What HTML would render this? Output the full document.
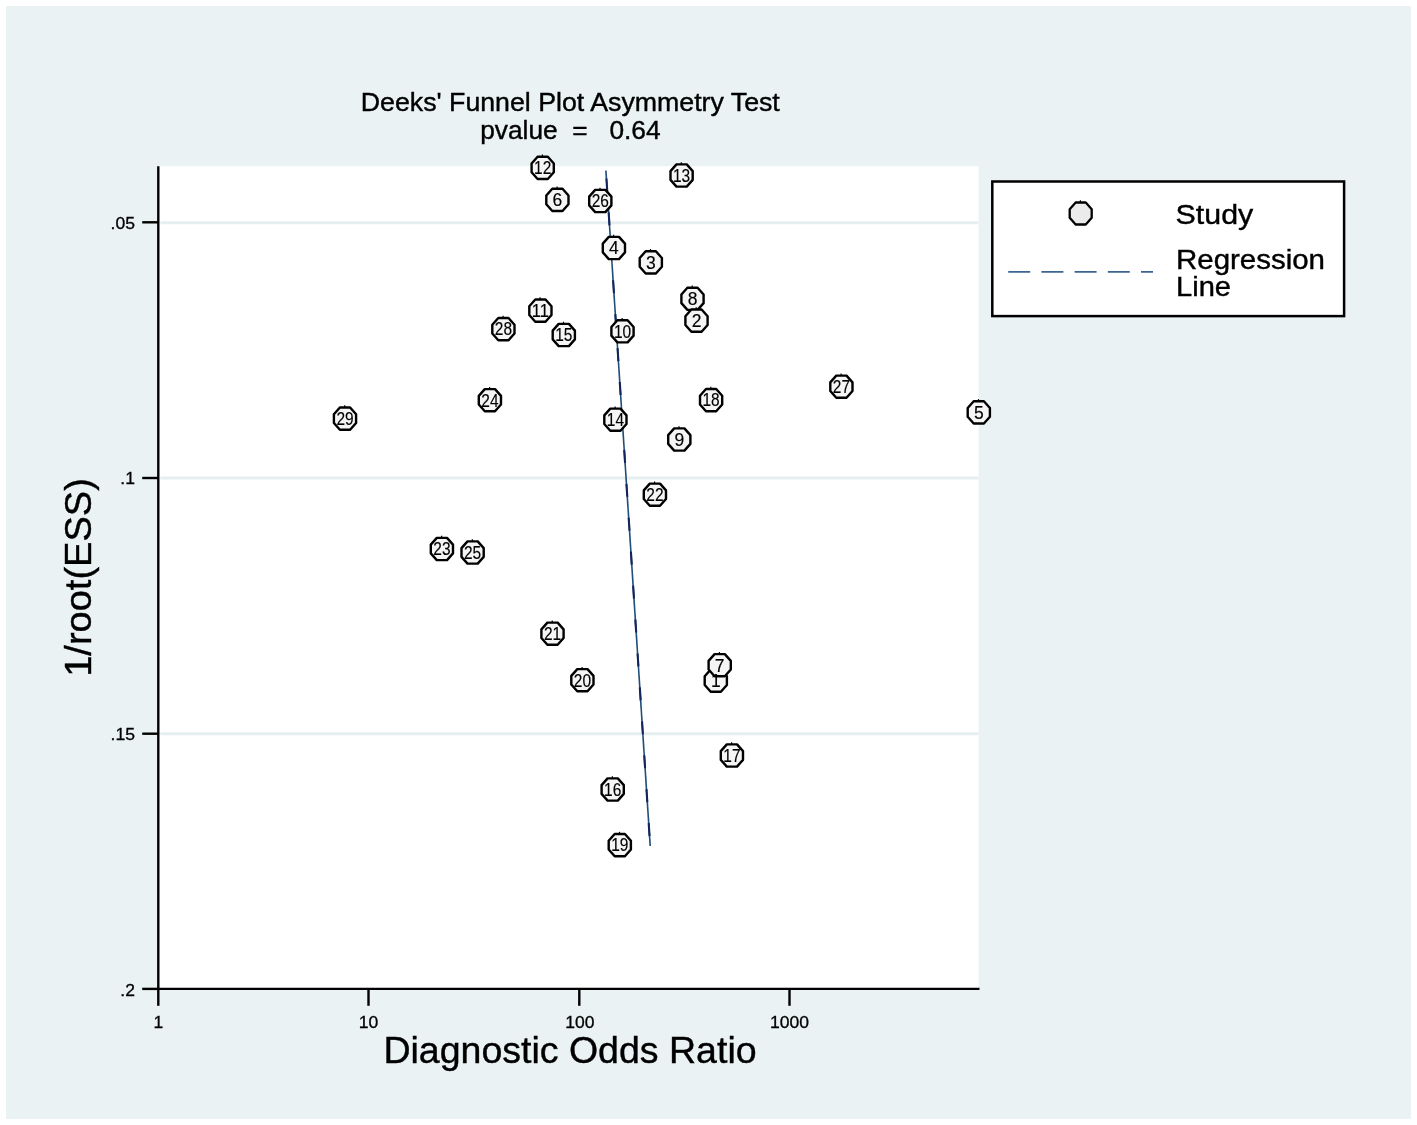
<!DOCTYPE html>
<html><head><meta charset="utf-8"><title>Deeks' Funnel Plot Asymmetry Test</title>
<style>
html,body{margin:0;padding:0;background:#fff;}
body{width:1417px;height:1125px;overflow:hidden;}
svg{display:block;}
text{font-family:"Liberation Sans",Arial,Helvetica,sans-serif;fill:#000;}
.ml{font-size:17.5px;text-anchor:middle;stroke:#000;stroke-width:0.15px;}
.tk{font-size:16.5px;stroke:#000;stroke-width:0.3px;}
.big{stroke:#000;stroke-width:0.4px;}
</style></head><body>
<svg width="1417" height="1125" viewBox="0 0 1417 1125">
<rect x="0" y="0" width="1417" height="1125" fill="#ffffff"/>
<rect x="6" y="6" width="1405" height="1113" fill="#EAF2F3"/>
<rect x="158.3" y="166.2" width="820.2" height="822.7" fill="#ffffff"/>

<line x1="160.3" y1="222.7" x2="978.5" y2="222.7" stroke="#E5EFF0" stroke-width="3.0"/>
<line x1="160.3" y1="478.1" x2="978.5" y2="478.1" stroke="#E5EFF0" stroke-width="3.0"/>
<line x1="160.3" y1="733.8" x2="978.5" y2="733.8" stroke="#E5EFF0" stroke-width="3.0"/>
<line x1="605.9" y1="170.5" x2="650.2" y2="846" stroke="#1E4E7A" stroke-width="1.6"/>
<line x1="605.9" y1="170.5" x2="650.2" y2="846" stroke="#13255A" stroke-width="2.1" stroke-dasharray="13 21" stroke-dashoffset="-8"/>
<g fill="#F5F5F5" stroke="#000" stroke-width="2.4" stroke-linejoin="round">
<polygon points="537.59,156.80 547.81,156.80 553.80,163.57 553.80,172.23 547.81,179.00 537.59,179.00 531.60,172.23 531.60,163.57"/><line x1="542.4" y1="154.6" x2="542.4" y2="156.8" stroke-width="1.2"/>
<polygon points="676.49,164.40 686.71,164.40 692.70,171.17 692.70,179.83 686.71,186.60 676.49,186.60 670.50,179.83 670.50,171.17"/><line x1="681.3" y1="162.2" x2="681.3" y2="164.4" stroke-width="1.2"/>
<polygon points="552.29,188.80 562.51,188.80 568.50,195.57 568.50,204.23 562.51,211.00 552.29,211.00 546.30,204.23 546.30,195.57"/><line x1="557.1" y1="186.6" x2="557.1" y2="188.8" stroke-width="1.2"/>
<polygon points="595.19,189.90 605.41,189.90 611.40,196.67 611.40,205.33 605.41,212.10 595.19,212.10 589.20,205.33 589.20,196.67"/><line x1="600.0" y1="187.7" x2="600.0" y2="189.9" stroke-width="1.2"/>
<polygon points="608.79,236.90 619.01,236.90 625.00,243.67 625.00,252.33 619.01,259.10 608.79,259.10 602.80,252.33 602.80,243.67"/><line x1="613.6" y1="234.7" x2="613.6" y2="236.9" stroke-width="1.2"/>
<polygon points="645.69,251.30 655.91,251.30 661.90,258.07 661.90,266.73 655.91,273.50 645.69,273.50 639.70,266.73 639.70,258.07"/><line x1="650.5" y1="249.1" x2="650.5" y2="251.3" stroke-width="1.2"/>
<polygon points="535.29,299.50 545.51,299.50 551.50,306.27 551.50,314.93 545.51,321.70 535.29,321.70 529.30,314.93 529.30,306.27"/><line x1="540.1" y1="297.3" x2="540.1" y2="299.5" stroke-width="1.2"/>
<polygon points="498.29,318.00 508.51,318.00 514.50,324.77 514.50,333.43 508.51,340.20 498.29,340.20 492.30,333.43 492.30,324.77"/><line x1="503.1" y1="315.8" x2="503.1" y2="318.0" stroke-width="1.2"/>
<polygon points="558.69,323.90 568.91,323.90 574.90,330.67 574.90,339.33 568.91,346.10 558.69,346.10 552.70,339.33 552.70,330.67"/><line x1="563.5" y1="321.7" x2="563.5" y2="323.9" stroke-width="1.2"/>
<polygon points="617.39,320.20 627.61,320.20 633.60,326.97 633.60,335.63 627.61,342.40 617.39,342.40 611.40,335.63 611.40,326.97"/><line x1="622.2" y1="318.0" x2="622.2" y2="320.2" stroke-width="1.2"/>
<polygon points="687.39,287.70 697.61,287.70 703.60,294.47 703.60,303.13 697.61,309.90 687.39,309.90 681.40,303.13 681.40,294.47"/><line x1="692.2" y1="285.5" x2="692.2" y2="287.7" stroke-width="1.2"/>
<polygon points="691.39,309.50 701.61,309.50 707.60,316.27 707.60,324.93 701.61,331.70 691.39,331.70 685.40,324.93 685.40,316.27"/><line x1="696.2" y1="307.3" x2="696.2" y2="309.5" stroke-width="1.2"/>
<polygon points="484.79,389.10 495.01,389.10 501.00,395.87 501.00,404.53 495.01,411.30 484.79,411.30 478.80,404.53 478.80,395.87"/><line x1="489.6" y1="386.9" x2="489.6" y2="389.1" stroke-width="1.2"/>
<polygon points="705.99,389.00 716.21,389.00 722.20,395.77 722.20,404.43 716.21,411.20 705.99,411.20 700.00,404.43 700.00,395.77"/><line x1="710.8" y1="386.8" x2="710.8" y2="389.0" stroke-width="1.2"/>
<polygon points="610.29,408.60 620.51,408.60 626.50,415.37 626.50,424.03 620.51,430.80 610.29,430.80 604.30,424.03 604.30,415.37"/><line x1="615.1" y1="406.4" x2="615.1" y2="408.6" stroke-width="1.2"/>
<polygon points="674.19,428.40 684.41,428.40 690.40,435.17 690.40,443.83 684.41,450.60 674.19,450.60 668.20,443.83 668.20,435.17"/><line x1="679.0" y1="426.2" x2="679.0" y2="428.4" stroke-width="1.2"/>
<polygon points="339.89,407.50 350.11,407.50 356.10,414.27 356.10,422.93 350.11,429.70 339.89,429.70 333.90,422.93 333.90,414.27"/><line x1="344.7" y1="405.3" x2="344.7" y2="407.5" stroke-width="1.2"/>
<polygon points="436.79,537.90 447.01,537.90 453.00,544.67 453.00,553.33 447.01,560.10 436.79,560.10 430.80,553.33 430.80,544.67"/><line x1="441.6" y1="535.7" x2="441.6" y2="537.9" stroke-width="1.2"/>
<polygon points="467.49,541.40 477.71,541.40 483.70,548.17 483.70,556.83 477.71,563.60 467.49,563.60 461.50,556.83 461.50,548.17"/><line x1="472.3" y1="539.2" x2="472.3" y2="541.4" stroke-width="1.2"/>
<polygon points="836.29,375.60 846.51,375.60 852.50,382.37 852.50,391.03 846.51,397.80 836.29,397.80 830.30,391.03 830.30,382.37"/><line x1="841.1" y1="373.4" x2="841.1" y2="375.6" stroke-width="1.2"/>
<polygon points="973.69,401.30 983.91,401.30 989.90,408.07 989.90,416.73 983.91,423.50 973.69,423.50 967.70,416.73 967.70,408.07"/><line x1="978.5" y1="399.1" x2="978.5" y2="401.3" stroke-width="1.2"/>
<polygon points="649.79,483.60 660.01,483.60 666.00,490.37 666.00,499.03 660.01,505.80 649.79,505.80 643.80,499.03 643.80,490.37"/><line x1="654.6" y1="481.4" x2="654.6" y2="483.6" stroke-width="1.2"/>
<polygon points="547.39,622.60 557.61,622.60 563.60,629.37 563.60,638.03 557.61,644.80 547.39,644.80 541.40,638.03 541.40,629.37"/><line x1="552.2" y1="620.4" x2="552.2" y2="622.6" stroke-width="1.2"/>
<polygon points="577.29,669.10 587.51,669.10 593.50,675.87 593.50,684.53 587.51,691.30 577.29,691.30 571.30,684.53 571.30,675.87"/><line x1="582.1" y1="666.9" x2="582.1" y2="669.1" stroke-width="1.2"/>
<polygon points="710.69,669.50 720.91,669.50 726.90,676.27 726.90,684.93 720.91,691.70 710.69,691.70 704.70,684.93 704.70,676.27"/><line x1="715.5" y1="667.3" x2="715.5" y2="669.5" stroke-width="1.2"/>
<polygon points="714.59,654.10 724.81,654.10 730.80,660.87 730.80,669.53 724.81,676.30 714.59,676.30 708.60,669.53 708.60,660.87"/><line x1="719.4" y1="651.9" x2="719.4" y2="654.1" stroke-width="1.2"/>
<polygon points="726.79,744.40 737.01,744.40 743.00,751.17 743.00,759.83 737.01,766.60 726.79,766.60 720.80,759.83 720.80,751.17"/><line x1="731.6" y1="742.2" x2="731.6" y2="744.4" stroke-width="1.2"/>
<polygon points="607.59,778.40 617.81,778.40 623.80,785.17 623.80,793.83 617.81,800.60 607.59,800.60 601.60,793.83 601.60,785.17"/><line x1="612.4" y1="776.2" x2="612.4" y2="778.4" stroke-width="1.2"/>
<polygon points="614.69,834.00 624.91,834.00 630.90,840.77 630.90,849.43 624.91,856.20 614.69,856.20 608.70,849.43 608.70,840.77"/><line x1="619.5" y1="831.8" x2="619.5" y2="834.0" stroke-width="1.2"/>
</g>
<g class="ml">
<text x="542.7" y="174.2" textLength="17.2" lengthAdjust="spacingAndGlyphs">12</text>
<text x="681.6" y="181.8" textLength="17.2" lengthAdjust="spacingAndGlyphs">13</text>
<text x="557.4" y="206.2">6</text>
<text x="600.3" y="207.3" textLength="17.2" lengthAdjust="spacingAndGlyphs">26</text>
<text x="613.9" y="254.3">4</text>
<text x="650.8" y="268.7">3</text>
<text x="540.4" y="316.9" textLength="17.2" lengthAdjust="spacingAndGlyphs">11</text>
<text x="503.4" y="335.4" textLength="17.2" lengthAdjust="spacingAndGlyphs">28</text>
<text x="563.8" y="341.3" textLength="17.2" lengthAdjust="spacingAndGlyphs">15</text>
<text x="622.5" y="337.6" textLength="17.2" lengthAdjust="spacingAndGlyphs">10</text>
<text x="692.5" y="305.1">8</text>
<text x="696.5" y="326.9">2</text>
<text x="489.9" y="406.5" textLength="17.2" lengthAdjust="spacingAndGlyphs">24</text>
<text x="711.1" y="406.4" textLength="17.2" lengthAdjust="spacingAndGlyphs">18</text>
<text x="615.4" y="426.0" textLength="17.2" lengthAdjust="spacingAndGlyphs">14</text>
<text x="679.3" y="445.8">9</text>
<text x="345.0" y="424.9" textLength="17.2" lengthAdjust="spacingAndGlyphs">29</text>
<text x="441.9" y="555.3" textLength="17.2" lengthAdjust="spacingAndGlyphs">23</text>
<text x="472.6" y="558.8" textLength="17.2" lengthAdjust="spacingAndGlyphs">25</text>
<text x="841.4" y="393.0" textLength="17.2" lengthAdjust="spacingAndGlyphs">27</text>
<text x="978.8" y="418.7">5</text>
<text x="654.9" y="501.0" textLength="17.2" lengthAdjust="spacingAndGlyphs">22</text>
<text x="552.5" y="640.0" textLength="17.2" lengthAdjust="spacingAndGlyphs">21</text>
<text x="582.4" y="686.5" textLength="17.2" lengthAdjust="spacingAndGlyphs">20</text>
<text x="715.8" y="686.9">1</text>
<text x="719.7" y="671.5">7</text>
<text x="731.9" y="761.8" textLength="17.2" lengthAdjust="spacingAndGlyphs">17</text>
<text x="612.7" y="795.8" textLength="17.2" lengthAdjust="spacingAndGlyphs">16</text>
<text x="619.8" y="851.4" textLength="17.2" lengthAdjust="spacingAndGlyphs">19</text>
</g>
<g stroke="#000" stroke-width="2.4" stroke-linecap="butt">
<line x1="158.3" y1="166.2" x2="158.3" y2="990.1"/>
<line x1="157.10000000000002" y1="988.9" x2="979.5" y2="988.9"/>
<line x1="142.2" y1="222.3" x2="158.3" y2="222.3"/>
<line x1="142.2" y1="478.0" x2="158.3" y2="478.0"/>
<line x1="142.2" y1="733.7" x2="158.3" y2="733.7"/>
<line x1="142.2" y1="988.9" x2="158.3" y2="988.9"/>
<line x1="158.3" y1="988.9" x2="158.3" y2="1005.8"/>
<line x1="368.5" y1="988.9" x2="368.5" y2="1005.8"/>
<line x1="579.3" y1="988.9" x2="579.3" y2="1005.8"/>
<line x1="789.5" y1="988.9" x2="789.5" y2="1005.8"/>
</g>
<g class="tk" text-anchor="end">
<text x="134.9" y="228.5" textLength="24.4" lengthAdjust="spacingAndGlyphs">.05</text>
<text x="134.9" y="483.8" textLength="14.6" lengthAdjust="spacingAndGlyphs">.1</text>
<text x="134.9" y="740.4" textLength="24.4" lengthAdjust="spacingAndGlyphs">.15</text>
<text x="134.9" y="996.3" textLength="14.6" lengthAdjust="spacingAndGlyphs">.2</text>
</g>
<g class="tk" text-anchor="middle">
<text x="158.3" y="1027.8" textLength="9.74" lengthAdjust="spacingAndGlyphs">1</text>
<text x="368.5" y="1027.8" textLength="19.5" lengthAdjust="spacingAndGlyphs">10</text>
<text x="579.8" y="1027.8" textLength="29.2" lengthAdjust="spacingAndGlyphs">100</text>
<text x="789.4" y="1027.8" textLength="39.0" lengthAdjust="spacingAndGlyphs">1000</text>
</g>
<g class="big">
<text x="570.3" y="110.8" font-size="26" text-anchor="middle" textLength="419" lengthAdjust="spacingAndGlyphs">Deeks' Funnel Plot Asymmetry Test</text>
<text x="570.4" y="138.8" font-size="26" text-anchor="middle" xml:space="preserve" style="white-space:pre" textLength="180.4" lengthAdjust="spacingAndGlyphs">pvalue  =   0.64</text>
<text x="570" y="1062.8" font-size="37" text-anchor="middle" textLength="373.2" lengthAdjust="spacingAndGlyphs">Diagnostic Odds Ratio</text>
<text transform="translate(91.2 577.5) rotate(-90)" font-size="37" text-anchor="middle" textLength="198.6" lengthAdjust="spacingAndGlyphs">1/root(ESS)</text>
</g>
<rect x="992.3" y="181.5" width="351.8" height="134.6" fill="#ffffff" stroke="#000" stroke-width="2.5"/>
<polygon points="1075.64,202.50 1085.76,202.50 1091.70,209.21 1091.70,217.79 1085.76,224.50 1075.64,224.50 1069.70,217.79 1069.70,209.21" fill="#EBEBEB" stroke="#000" stroke-width="2.3" stroke-linejoin="round"/>
<line x1="1080.4" y1="200.2" x2="1080.4" y2="202.5" stroke="#000" stroke-width="1.2"/>
<line x1="1008.2" y1="271.9" x2="1153.0" y2="271.9" stroke="#3B6691" stroke-width="1.8" stroke-dasharray="22 11.2"/>
<g class="big" font-size="27.5">
<text x="1175.6" y="224.0" textLength="77.6" lengthAdjust="spacingAndGlyphs">Study</text>
<text x="1176.0" y="268.5" textLength="149.0" lengthAdjust="spacingAndGlyphs">Regression</text>
<text x="1176.0" y="296.4" textLength="55.0" lengthAdjust="spacingAndGlyphs">Line</text>
</g>
</svg>
</body></html>
